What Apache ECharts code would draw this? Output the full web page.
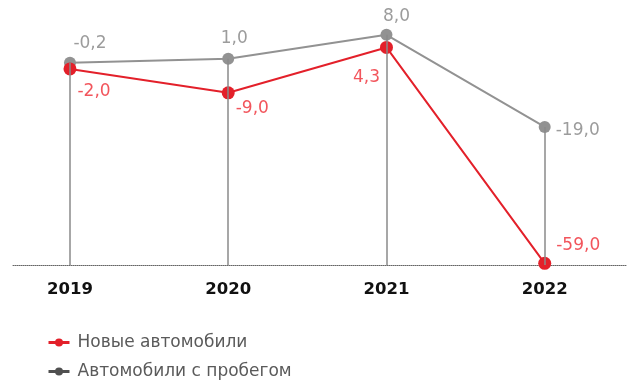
<!DOCTYPE html>
<html>
<head>
<meta charset="utf-8">
<script src="https://cdn.jsdelivr.net/npm/echarts@6/dist/echarts.min.js"></script>
<style>html,body{margin:0;padding:0;background:#fff}#c{width:627px;height:383px}</style>
</head>
<body>
<div id="c"></div>
<script>
var categories = ['2019', '2020', '2021', '2022'];
var newCars = [-2.0, -9.0, 4.3, -59.0];
var usedCars = [-0.2, 1.0, 8.0, -19.0];
var seriesNames = ['Новые автомобили', 'Автомобили с пробегом'];

var Y_MIN = -59.5, Y_MAX = 10;
var RED = '#e3202a', RED_LBL = '#f2555c', GREY = '#929292', GREY_LBL = '#9c9c9c';
var FONT = 'DejaVu Sans';

var usedLabelStyle = [
  {position: 'top', offset: [20, 0]},
  {position: 'top', offset: [6, -1]},
  {position: 'top', offset: [10, 1]},
  {position: 'right', offset: [0, 4]}
];
var newLabelStyle = [
  {position: 'right', offset: [-4, 23]},
  {position: 'right', offset: [-4, 16]},
  {position: 'left', offset: [5, 30]},
  {position: 'right', offset: [0, -18]}
];
function fmt(v) { return v.toFixed(1).replace('.', ','); }

var chart = echarts.init(document.getElementById('c'));
chart.setOption({
  animation: false,
  textStyle: {fontFamily: FONT},
  grid: {left: 13, right: 0, top: 28, bottom: 118},
  legend: {
    orient: 'vertical', left: 47, top: 334, height: 55, padding: 0, itemGap: 12,
    itemWidth: 21, itemHeight: 10,
    textStyle: {fontFamily: FONT, fontSize: 17, color: '#5a5a5a', padding: [0, 0, 0, 3]},
    data: [
      {name: seriesNames[0], itemStyle: {color: RED}, lineStyle: {color: RED, width: 3}},
      {name: seriesNames[1], itemStyle: {color: '#505050'}, lineStyle: {color: '#505050', width: 3}}
    ]
  },
  xAxis: {
    type: 'value', min: -0.36, max: 3.52,
    axisLine: {show: true, onZero: false, lineStyle: {color: '#666', type: 'dotted', width: 1}},
    axisTick: {show: false},
    splitLine: {show: false},
    axisLabel: {
      customValues: [0, 1, 2, 3],
      formatter: function (v) { return categories[Math.round(v)]; },
      color: '#111', fontSize: 16.5, fontWeight: 'bold', fontFamily: FONT, margin: 16
    }
  },
  yAxis: {type: 'value', min: Y_MIN, max: Y_MAX, show: false},
  series: [
    {
      name: seriesNames[1], type: 'line', z: 2,
      data: usedCars.map(function (v, i) {
        return {value: [i, v], label: usedLabelStyle[i]};
      }),
      lineStyle: {color: GREY, width: 2},
      itemStyle: {color: GREY},
      symbol: 'circle', symbolSize: 12,
      label: {show: true, color: GREY_LBL, fontSize: 17, fontFamily: FONT,
        formatter: function (p) { return fmt(p.value[1]); }},
      markLine: {
        silent: true, symbol: ['none', 'none'], label: {show: false},
        lineStyle: {color: '#8a8a8a', width: 1.5, type: 'solid'},
        data: usedCars.map(function (v, i) {
          return [{coord: [i, v]}, {coord: [i, Y_MIN]}];
        })
      }
    },
    {
      name: seriesNames[0], type: 'line', z: 3,
      data: newCars.map(function (v, i) {
        return {value: [i, v], label: newLabelStyle[i]};
      }),
      lineStyle: {color: RED, width: 2},
      itemStyle: {color: RED},
      symbol: 'circle', symbolSize: 13,
      label: {show: true, color: RED_LBL, fontSize: 17, fontFamily: FONT,
        formatter: function (p) { return fmt(p.value[1]); }}
    }
  ]
});
</script>
</body>
</html>
